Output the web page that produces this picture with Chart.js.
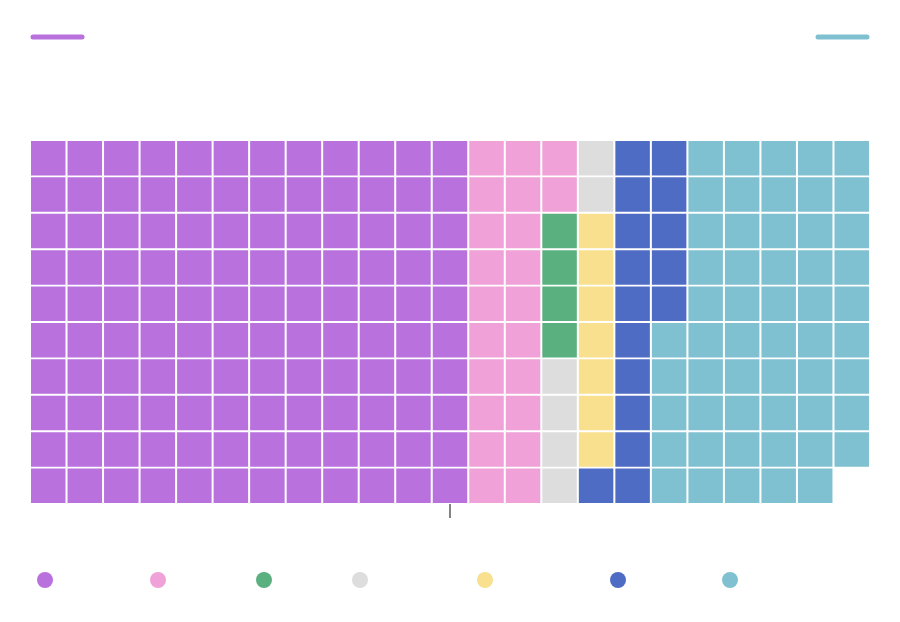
<!DOCTYPE html>
<html><head><meta charset="utf-8">
<script src="https://cdn.jsdelivr.net/npm/chart.js@4"></script>
<style>html,body{margin:0;padding:0;background:#fff}#w{width:900px;height:622px}</style>
</head><body><div id="w"><canvas id="c"></canvas></div>
<script>
const categories = ["A","B","C","D","E","F","G"];
const counts = [120, 22, 4, 6, 7, 16, 54];
const colors = ["#b971de","#efa1d8","#5bb07f","#dddddd","#f8e08e","#4f6cc4","#80c1d1"];
const ROWS = 10, COLS = 23;

const datasets = [];
let idx = 0;
categories.forEach((name, i) => {
  const pts = [];
  for (let k = 0; k < counts[i]; k++, idx++) {
    pts.push({x: Math.floor(idx / ROWS), y: idx % ROWS});
  }
  datasets.push({label: name, data: pts, backgroundColor: colors[i], borderWidth: 0,
    pointStyle: 'rect', pointRadius: 24.4, pointHoverRadius: 24.4});
});

const deco = {
  id: 'deco',
  afterDraw(chart) {
    const ctx = chart.ctx;
    ctx.save();
    ctx.lineCap = 'round'; ctx.lineWidth = 5;
    ctx.strokeStyle = colors[0]; ctx.beginPath(); ctx.moveTo(33,37); ctx.lineTo(82,37); ctx.stroke();
    ctx.strokeStyle = colors[6]; ctx.beginPath(); ctx.moveTo(818,37); ctx.lineTo(867,37); ctx.stroke();
    ctx.lineCap = 'butt'; ctx.lineWidth = 1.2; ctx.strokeStyle = '#333';
    const cx = (chart.chartArea.left + chart.chartArea.right) / 2;
    ctx.beginPath(); ctx.moveTo(cx, chart.chartArea.bottom); ctx.lineTo(cx, chart.chartArea.bottom + 14); ctx.stroke();
    const lx = [45,158,264,360,485,618,730];
    lx.forEach((x, i) => { ctx.fillStyle = colors[i]; ctx.beginPath(); ctx.arc(x, 580, 8, 0, Math.PI*2); ctx.fill(); });
    ctx.restore();
  }
};

new Chart(document.getElementById('c'), {
  type: 'scatter',
  data: {datasets},
  options: {
    responsive: true, maintainAspectRatio: false, animation: false,
    layout: {padding: {left: 30, right: 30, top: 140, bottom: 118}},
    plugins: {legend: {display: false}, tooltip: {enabled: false}},
    scales: {
      x: {display: false, min: -0.5, max: COLS - 0.5},
      y: {display: false, min: -0.5, max: ROWS - 0.5, reverse: true}
    }
  },
  plugins: [deco]
});
</script></body></html>
